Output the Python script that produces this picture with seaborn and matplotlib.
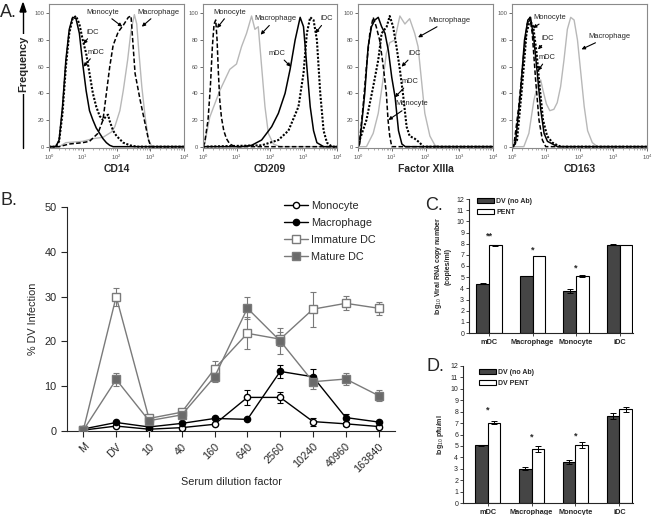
import numpy as np
import pandas as pd
import matplotlib
matplotlib.use("Agg")
import matplotlib.pyplot as plt
from matplotlib.patches import Patch
from matplotlib.lines import Line2D
import seaborn as sns

sns.set_style("ticks")
plt.rcParams["font.family"] = ["Liberation Sans", "DejaVu Sans"]
plt.rcParams["mathtext.fontset"] = "custom"
plt.rcParams["mathtext.rm"] = "Liberation Sans"

# ---- panel A: flow histograms (x given as log10 of fluorescence) ----
cd14_mono_x = [0, 0.3, 0.6, 1.0, 1.2, 1.45, 1.6, 1.7, 1.8, 1.9, 2.05, 2.2, 2.35, 2.43, 2.48, 2.55, 2.7, 2.85, 2.95, 3.02, 4]
cd14_mono_y = [0, 0, 2, 3, 4, 10, 20, 40, 60, 76, 86, 91, 97, 98, 80, 55, 35, 17, 5, 0, 0]
cd14_mac_x = [0, 0.3, 0.5, 1.0, 1.3, 1.6, 1.85, 1.95, 2.1, 2.2, 2.33, 2.43, 2.53, 2.6, 2.66, 2.75, 2.85, 2.95, 3.05, 4]
cd14_mac_y = [0, 0, 3, 4, 6, 7, 11, 15, 27, 42, 65, 87, 99, 92, 72, 45, 22, 5, 0, 0]
cd14_idc_x = [0, 0.2, 0.3, 0.4, 0.5, 0.6, 0.7, 0.8, 0.9, 1.0, 1.1, 1.2, 1.3, 1.4, 1.5, 1.6, 1.7, 1.75, 1.8, 1.9, 2.0, 2.2, 2.4, 2.6, 4]
cd14_idc_y = [0, 0, 4, 25, 60, 85, 96, 98, 92, 80, 70, 55, 40, 30, 23, 20, 23, 24, 19, 12, 8, 3, 1, 0, 0]
cd14_mdc_x = [0, 0.2, 0.3, 0.4, 0.5, 0.6, 0.7, 0.8, 0.9, 1.0, 1.1, 1.2, 1.3, 1.4, 1.5, 1.6, 1.7, 1.8, 1.9, 4]
cd14_mdc_y = [0, 0, 5, 30, 65, 88, 97, 96, 85, 62, 42, 27, 20, 14, 10, 6, 3, 1, 0, 0]

cd209_mono_x = [0, 0.05, 0.15, 0.22, 0.28, 0.33, 0.38, 0.42, 0.46, 0.5, 0.55, 0.62, 0.7, 0.8, 0.95, 4]
cd209_mono_y = [0, 3, 20, 45, 75, 92, 95, 80, 55, 35, 22, 12, 6, 2, 0, 0]
cd209_mac_x = [0, 0.05, 0.2, 0.35, 0.5, 0.65, 0.8, 1.0, 1.15, 1.3, 1.45, 1.55, 1.65, 1.75, 1.85, 1.95, 2.1, 2.3, 4]
cd209_mac_y = [0, 2, 22, 32, 42, 50, 58, 62, 75, 85, 98, 88, 90, 60, 30, 10, 2, 0, 0]
cd209_idc_x = [0, 1.75, 2.25, 2.55, 2.85, 3.0, 3.1, 3.2, 3.3, 3.4, 3.5, 3.6, 3.7, 3.85, 4]
cd209_idc_y = [0, 1, 5, 12, 30, 55, 85, 97, 95, 80, 40, 12, 3, 0, 0]
cd209_mdc_x = [0, 1.15, 1.45, 1.75, 2.05, 2.25, 2.45, 2.6, 2.75, 2.9, 3.0, 3.1, 3.2, 3.3, 3.4, 3.6, 4]
cd209_mdc_y = [0, 0, 1, 5, 15, 25, 40, 58, 80, 97, 90, 60, 30, 12, 3, 0, 0]

f13_mono_x = [0, 0.05, 0.15, 0.25, 0.35, 0.45, 0.54, 0.64, 0.74, 0.84, 0.89, 0.94, 1.0, 4]
f13_mono_y = [0, 5, 30, 60, 85, 97, 90, 80, 62, 40, 20, 8, 0, 0]
f13_mac_x = [0, 0.25, 0.45, 0.6, 0.74, 0.84, 0.94, 1.09, 1.24, 1.39, 1.53, 1.68, 1.78, 1.88, 1.98, 2.13, 2.28, 2.4, 4]
f13_mac_y = [0, 0, 10, 25, 50, 70, 78, 80, 98, 92, 96, 85, 75, 50, 25, 8, 1, 0, 0]
f13_idc_x = [0, 0.05, 0.25, 0.45, 0.6, 0.7, 0.85, 0.94, 1.04, 1.14, 1.24, 1.34, 1.44, 1.53, 1.68, 1.83, 1.93, 4]
f13_idc_y = [0, 5, 20, 45, 65, 85, 90, 98, 90, 75, 58, 38, 15, 8, 6, 3, 0, 0]
f13_mdc_x = [0, 0.05, 0.2, 0.3, 0.4, 0.5, 0.6, 0.7, 0.8, 0.9, 1.0, 1.1, 1.2, 1.3, 1.4, 4]
f13_mdc_y = [0, 2, 40, 75, 90, 95, 97, 90, 85, 72, 52, 37, 12, 2, 0, 0]

cd163_mono_x = [0, 0.05, 0.2, 0.35, 0.45, 0.53, 0.6, 0.7, 0.8, 0.9, 1.0, 4]
cd163_mono_y = [0, 0, 30, 70, 92, 97, 85, 50, 20, 5, 0, 0]
cd163_mac_x = [0, 0.35, 0.5, 0.65, 0.75, 0.85, 0.92, 1.02, 1.12, 1.24, 1.34, 1.44, 1.54, 1.64, 1.74, 1.84, 1.94, 2.04, 2.14, 2.24, 2.38, 2.53, 4]
cd163_mac_y = [0, 0, 10, 35, 45, 50, 42, 32, 27, 28, 33, 45, 65, 88, 97, 95, 80, 55, 30, 12, 3, 0, 0]
cd163_idc_x = [0, 0.15, 0.3, 0.43, 0.53, 0.63, 0.73, 0.82, 0.92, 1.04, 1.2, 1.35, 1.45, 4]
cd163_idc_y = [0, 5, 45, 85, 95, 90, 70, 45, 20, 8, 3, 1, 0, 0]
cd163_mdc_x = [0, 0.1, 0.25, 0.37, 0.47, 0.55, 0.65, 0.75, 0.85, 0.95, 1.05, 1.2, 1.35, 4]
cd163_mdc_y = [0, 2, 40, 80, 95, 97, 80, 55, 28, 10, 4, 2, 0, 0]

hist_markers = ["CD14", "CD209", "Factor XIIIa", "CD163"]

# ---- panel B ----
dilutions = ["M", "DV", "10", "40", "160", "640", "2560", "10240", "40960", "163840"]
monocyte = [0.2, 1.1, 0.4, 0.75, 1.5, 7.5, 7.5, 2.1, 1.6, 1.0]
monocyte_err = [0, 0, 0, 0, 0, 1.7, 1.3, 0.9, 0.4, 0.3]
macrophage = [0.45, 1.9, 0.9, 1.7, 2.8, 2.6, 13.3, 12.1, 3.0, 2.0]
macrophage_err = [0, 0, 0, 0, 0, 0, 1.4, 1.7, 0.9, 0]
immature_dc = [0.3, 30.0, 2.8, 4.2, 13.9, 21.8, 20.5, 27.2, 28.5, 27.4]
immature_dc_err = [0, 2.0, 0, 0, 1.8, 3.6, 1.5, 3.9, 1.6, 1.5]
mature_dc = [0.2, 11.5, 2.3, 3.6, 12.1, 27.4, 20.1, 11.0, 11.6, 7.9]
mature_dc_err = [0, 1.5, 0, 0, 1.2, 2.5, 2.9, 1.6, 1.3, 1.2]

# ---- panels C and D ----
cells = ["mDC", "Macrophage", "Monocyte", "iDC"]
rna_dv = [4.4, 5.1, 3.75, 7.9]
rna_dv_err = [0.05, 0.03, 0.15, 0.03]
rna_pent = [7.85, 6.9, 5.1, 7.88]
rna_pent_err = [0.05, 0.03, 0.1, 0.03]
rna_stars = ["**", "*", "*", ""]
rna_star_y = [8.9, 7.6, 6.05, 0]

pfu_dv = [5.05, 3.0, 3.6, 7.6]
pfu_dv_err = [0.05, 0.15, 0.15, 0.25]
pfu_pent = [7.05, 4.75, 5.05, 8.2]
pfu_pent_err = [0.15, 0.25, 0.25, 0.2]
pfu_stars = ["*", "*", "*", ""]
pfu_star_y = [8.35, 5.95, 6.1, 0]

W, H = 664, 515
fig = plt.figure(figsize=(W / 100, H / 100), dpi=100)


def px_axes(left, top, right, bottom):
    return fig.add_axes([left / W, 1 - bottom / H, (right - left) / W, (bottom - top) / H])


# ---------------- panel A ----------------
styles = {
    "mac": dict(color="#b8b8b8", linestyle="-", lw=1.0),
    "mono": dict(color="black", linestyle=(0, (3, 1.5)), lw=1.1),
    "idc": dict(color="black", linestyle=(0, (1, 0.8)), lw=1.5),
    "mdc": dict(color="black", linestyle="-", lw=1.1),
}
curves = [
    {"mac": (cd14_mac_x, cd14_mac_y), "mono": (cd14_mono_x, cd14_mono_y),
     "idc": (cd14_idc_x, cd14_idc_y), "mdc": (cd14_mdc_x, cd14_mdc_y)},
    {"mac": (cd209_mac_x, cd209_mac_y), "mono": (cd209_mono_x, cd209_mono_y),
     "idc": (cd209_idc_x, cd209_idc_y), "mdc": (cd209_mdc_x, cd209_mdc_y)},
    {"mac": (f13_mac_x, f13_mac_y), "mono": (f13_mono_x, f13_mono_y),
     "idc": (f13_idc_x, f13_idc_y), "mdc": (f13_mdc_x, f13_mdc_y)},
    {"mac": (cd163_mac_x, cd163_mac_y), "mono": (cd163_mono_x, cd163_mono_y),
     "idc": (cd163_idc_x, cd163_idc_y), "mdc": (cd163_mdc_x, cd163_mdc_y)},
]
# label, text (log x, y), arrow head (log x, y)
notes = [
    [("Monocyte", (1.6, 101), (2.17, 90)), ("Macrophage", (3.25, 101), (2.75, 90)),
     ("iDC", (1.3, 86), (1.02, 77)), ("mDC", (1.4, 71), (1.02, 60))],
    [("Monocyte", (0.8, 101), (0.42, 89)), ("Macrophage", (2.17, 96), (1.72, 84)),
     ("iDC", (3.7, 96), (3.35, 85)), ("mDC", (2.22, 70), (2.62, 60))],
    [("Macrophage", (2.7, 95), (1.78, 82)), ("iDC", (1.68, 70), (1.29, 60)),
     ("mDC", (1.55, 49), (1.09, 37)), ("Monocyte", (1.6, 32), (0.9, 20))],
    [("Monocyte", (1.12, 97), (0.62, 89)), ("iDC", (1.07, 81), (0.77, 73)),
     ("mDC", (1.05, 67), (0.77, 57)), ("Macrophage", (2.9, 83), (2.06, 73))],
]
hist_pos = [(49, 184), (203, 337), (358, 493), (512, 647)]

for i, (x0, x1) in enumerate(hist_pos):
    ax = px_axes(x0, 4, x1, 148)
    ax.set_xscale("log")
    for key in ["mac", "mono", "idc", "mdc"]:
        xs, ys = curves[i][key]
        sns.lineplot(x=10 ** np.array(xs, dtype=float), y=ys, ax=ax, sort=False,
                     estimator=None, **styles[key])
    ax.set_xlim(1, 1e4)
    ax.set_ylim(-1, 107)
    ax.set_yticks([0, 20, 40, 60, 80, 100])
    ax.tick_params(labelsize=4.2, length=2, width=0.6, colors="#555555", pad=1.5)
    ax.tick_params(which="minor", length=1.2, width=0.4, colors="#777777")
    for sp in ax.spines.values():
        sp.set_color("#8a8a8a")
        sp.set_linewidth(0.8)
    ax.set_xlabel(hist_markers[i], fontsize=7.5, fontweight="bold", labelpad=1)
    ax.set_ylabel("")
    for label, (tx, ty), (hx, hy) in notes[i]:
        ax.annotate(label, xy=(10 ** hx, hy), xytext=(10 ** tx, ty), fontsize=5.4,
                    ha="center", va="center",
                    arrowprops=dict(arrowstyle="-|>", color="black", lw=0.8,
                                    mutation_scale=5, shrinkA=0, shrinkB=0))

fig.add_artist(plt.Line2D([23 / W, 23 / W], [1 - 148 / H, 1 - 10 / H], color="black", lw=1.0))
fig.add_artist(plt.Polygon([[20 / W, 1 - 12 / H], [26 / W, 1 - 12 / H], [23 / W, 1 - 3 / H]],
                           closed=True, color="black"))
fig.text(23 / W, 1 - 64 / H, "Frequency", rotation=90, ha="center", va="center",
         fontsize=8, fontweight="bold",
         bbox=dict(facecolor="white", edgecolor="none", pad=1))

# ---------------- panel B ----------------
axB = px_axes(67, 207, 395, 431)
xpos = np.arange(len(dilutions))
gray = "#7a7a7a"
series = [
    ("Monocyte", monocyte, monocyte_err, "black", "o", "white", 4.5),
    ("Macrophage", macrophage, macrophage_err, "black", "o", "black", 4.5),
    ("Immature DC", immature_dc, immature_dc_err, gray, "s", "white", 5.5),
    ("Mature DC", mature_dc, mature_dc_err, gray, "s", "#6a6a6a", 5.5),
]
handles = []
for name, vals, errs, col, mk, mfc, ms in series:
    axB.errorbar(xpos, vals, yerr=errs, color=col, marker=mk, mfc=mfc, mec=col,
                 ms=ms, lw=1.0, elinewidth=0.8, capsize=2.5, capthick=0.8, zorder=3)
    handles.append(Line2D([], [], color=col, marker=mk, mfc=mfc, mec=col, ms=ms,
                          lw=1.0, label=name))
axB.set_xlim(-0.5, len(dilutions) - 0.5)
axB.set_ylim(0, 50)
axB.set_yticks([0, 10, 20, 30, 40, 50])
axB.set_xticks(xpos)
axB.set_xticklabels(dilutions, rotation=45, ha="right", rotation_mode="anchor")
axB.tick_params(labelsize=7.8, length=4, width=0.8)
sns.despine(ax=axB)
axB.set_xlabel("Serum dilution factor", fontsize=7.8, labelpad=2)
axB.set_ylabel("% DV Infection", fontsize=7.8, labelpad=5)
axB.legend(handles=handles, loc="upper right", bbox_to_anchor=(0.97, 1.07), frameon=False,
           fontsize=7.8, handlelength=2.2, handletextpad=0.3, labelspacing=0.65)


# ---------------- panels C and D ----------------
def bar_panel(ax, dv, dv_err, pent, pent_err, labels, stars, star_y, ylabel, xlim, legbox):
    df = pd.DataFrame({"cell": cells * 2,
                       "group": [labels[0]] * len(cells) + [labels[1]] * len(cells),
                       "value": dv + pent})
    sns.barplot(data=df, x="cell", y="value", hue="group", palette=["#454545", "white"],
                saturation=1, edgecolor="black", linewidth=0.8, width=0.58, gap=0,
                errorbar=None, legend=False, ax=ax)
    bars = sorted(ax.patches, key=lambda p: p.get_x())
    centers = [p.get_x() + p.get_width() / 2 for p in bars]
    heights = [p.get_height() for p in bars]
    errs = [e for pair in zip(dv_err, pent_err) for e in pair]
    ax.errorbar(centers, heights, yerr=errs, fmt="none", ecolor="black",
                elinewidth=0.7, capsize=2.2, capthick=0.7)
    for i, (s, y) in enumerate(zip(stars, star_y)):
        if s:
            ax.text(i, y - 0.2, s, ha="center", va="center", fontsize=6.5, fontweight="bold")
    ax.set_xlim(*xlim)
    ax.set_ylim(0, 12)
    ax.set_yticks(range(13))
    ax.tick_params(axis="y", labelsize=5, length=2.5, width=0.6, pad=1)
    ax.tick_params(axis="x", labelsize=5.3, length=2.5, width=0.6, pad=1.5)
    for t in ax.get_xticklabels():
        t.set_fontweight("bold")
    sns.despine(ax=ax)
    for sp in ax.spines.values():
        sp.set_linewidth(0.8)
    ax.set_xlabel("")
    ax.set_ylabel(ylabel, fontsize=5, fontweight="bold", labelpad=3)
    leg_h = [Patch(facecolor="#454545", edgecolor="black", lw=0.8),
             Patch(facecolor="white", edgecolor="black", lw=0.8)]
    ax.legend(leg_h, labels, loc="upper left", bbox_to_anchor=legbox, frameon=False,
              prop={"size": 5, "weight": "bold"}, handlelength=2.5, handleheight=0.7,
              handletextpad=0.3, labelspacing=0.55, borderaxespad=0)


axC = px_axes(469, 199, 633, 333)
bar_panel(axC, rna_dv, rna_dv_err, rna_pent, rna_pent_err, ["DV (no Ab)", "PENT"],
          rna_stars, rna_star_y, "log$_{10}$ Viral RNA copy number\n(copies/ml)",
          (-0.46, 3.31), (0.03, 1.03))

axD = px_axes(463, 366, 633, 503)
bar_panel(axD, pfu_dv, pfu_dv_err, pfu_pent, pfu_pent_err, ["DV (no Ab)", "DV PENT"],
          pfu_stars, pfu_star_y, "log$_{10}$ pfu/ml", (-0.56, 3.31), (0.075, 1.0))

# panel letters
for lab, x, y in [("A.", 0, 4), ("B.", 0, 192), ("C.", 425, 197), ("D.", 427, 358)]:
    fig.text(x / W, 1 - y / H, lab, fontsize=13, ha="left", va="top")

fig.savefig("out.png", dpi=100, facecolor="white")
